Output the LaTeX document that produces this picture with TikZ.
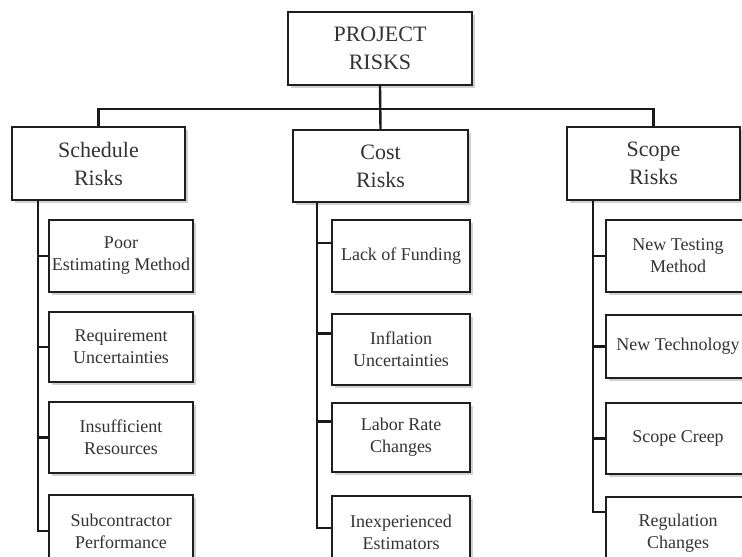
\documentclass[tikz,border=0pt]{standalone}
\usepackage{fontspec}
\setmainfont{Liberation Serif}
\usetikzlibrary{shadows}
\begin{document}
\begin{tikzpicture}[x=1pt,y=-1pt,
  box/.style={draw=black!88, line width=2.4pt, fill=white, align=center, inner sep=0pt,
    text=black!80,
    drop shadow={shadow xshift=3pt, shadow yshift=-3pt, fill=black!30, opacity=0.6}},
  bigbox/.style={box, font=\fontsize{22}{28}\selectfont},
  smallbox/.style={box, font=\fontsize{18}{22}\selectfont},
  conn/.style={draw=black!90, line width=2.4pt}]
\useasboundingbox (0,0) rectangle (742,557);
% top level
\node[bigbox, minimum width=184pt, minimum height=73pt] (top) at (380,48.5) {PROJECT\\RISKS};
\node[bigbox, minimum width=173pt, minimum height=73pt] (sched) at (98.5,163.5) {Schedule\\Risks};
\node[bigbox, minimum width=175pt, minimum height=72pt] (cost) at (380.5,166) {Cost\\Risks};
\node[bigbox, minimum width=173pt, minimum height=73pt] (scope) at (653.5,163.5) {Scope\\Risks};
% schedule children
\node[smallbox, minimum width=144pt, minimum height=72pt] (s1) at (121,256) {Poor\\Estimating Method};
\node[smallbox, minimum width=144pt, minimum height=70pt] (s2) at (121,347) {Requirement\\Uncertainties};
\node[smallbox, minimum width=144pt, minimum height=71pt] (s3) at (121,437.5) {Insufficient\\Resources};
\node[smallbox, minimum width=144pt, minimum height=72pt] (s4) at (121,531) {Subcontractor\\Performance};
% cost children
\node[smallbox, minimum width=138pt, minimum height=72pt] (c1) at (401,256) {Lack of Funding};
\node[smallbox, minimum width=138pt, minimum height=71pt] (c2) at (401,349.5) {Inflation\\Uncertainties};
\node[smallbox, minimum width=138pt, minimum height=69pt] (c3) at (401,437.5) {Labor Rate\\Changes};
\node[smallbox, minimum width=138pt, minimum height=72pt] (c4) at (401,532) {Inexperienced\\Estimators};
% scope children
\node[smallbox, minimum width=144pt, minimum height=72pt] (p1) at (678,256) {New Testing\\Method};
\node[smallbox, minimum width=144pt, minimum height=63pt] (p2) at (678,346.5) {New Technology};
\node[smallbox, minimum width=144pt, minimum height=71pt] (p3) at (678,438.5) {Scope Creep};
\node[smallbox, minimum width=144pt, minimum height=72pt] (p4) at (678,533) {Regulation\\Changes};
% connectors
\coordinate (bar) at (0,109);
\coordinate (sx) at (38,0);
\coordinate (cx) at (317,0);
\coordinate (px) at (593,0);
\draw[conn] (top.south) -- (cost.north);
\draw[conn] (sched.north) -- (sched.north |- bar) -- (scope.north |- bar) -- (scope.north);
% schedule stem
\draw[conn] (sched.south -| sx) |- (s4.west);
\draw[conn] (sched.south -| sx) |- (s1.west);
\draw[conn] (sched.south -| sx) |- (s2.west);
\draw[conn] (sched.south -| sx) |- (s3.west);
% cost stem
\draw[conn] (cost.south -| cx) |- ([yshift=4pt]c4.west);
\draw[conn] (cost.south -| cx) |- ([yshift=13pt]c1.west);
\draw[conn] (cost.south -| cx) |- ([yshift=16pt]c2.west);
\draw[conn] (cost.south -| cx) |- ([yshift=16pt]c3.west);
% scope stem
\draw[conn] (scope.south -| px) |- ([yshift=21pt]p4.west);
\draw[conn] (scope.south -| px) |- (p1.west);
\draw[conn] (scope.south -| px) |- (p2.west);
\draw[conn] (scope.south -| px) |- (p3.west);
\end{tikzpicture}
\end{document}
